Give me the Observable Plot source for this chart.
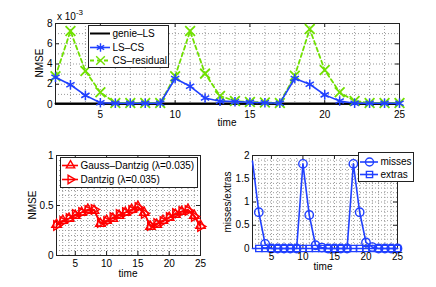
<!DOCTYPE html>
<html><head><meta charset="utf-8">
<script src="https://cdn.jsdelivr.net/npm/d3@7"></script>
<script src="https://cdn.jsdelivr.net/npm/@observablehq/plot@0.6"></script>
<style>
body{margin:0;background:#fff;}
#root{position:relative;width:436px;height:287px;overflow:hidden;font-family:"Liberation Sans",Arial,sans-serif;font-size:10px;color:#000;}
#root svg{position:absolute;overflow:visible;}
.lbl{position:absolute;white-space:nowrap;font-size:10px;line-height:1;transform:translate(-50%,-50%);}
.rot{transform:translate(-50%,-50%) rotate(-90deg);}
</style></head><body><div id="root"></div>
<script>
// ---------- data ----------
const time = [2,3,4,5,6,7,8,9,10,11,12,13,14,15,16,17,18,19,20,21,22,23,24,25];
// top panel, NMSE in units of 1e-3
const genieLS    = [0.1,0.1,0.1,0.1,0.1,0.1,0.1,0.1,0.1,0.1,0.1,0.1,0.1,0.1,0.1,0.1,0.1,0.1,0.1,0.1,0.1,0.1,0.1,0.1];
const lsCS       = [2.7,1.95,0.9,0.17,0.12,0.12,0.12,0.12,2.57,1.8,0.65,0.33,0.28,0.22,0.17,0.13,2.57,2.0,0.95,0.35,0.13,0.12,0.12,0.12];
const csResidual = [2.8,7.25,3.3,1.2,0.15,0.15,0.15,0.15,2.8,7.25,3.05,0.85,0.35,0.25,0.2,0.15,2.85,7.45,3.4,1.2,0.35,0.15,0.15,0.15];
// bottom-left panel
const gaussDantzig = [0.31,0.35,0.37,0.40,0.43,0.46,0.45,0.32,0.35,0.37,0.40,0.43,0.46,0.49,0.43,0.29,0.31,0.35,0.38,0.41,0.44,0.46,0.40,0.30];
const dantzig      = [0.30,0.34,0.37,0.41,0.43,0.45,0.46,0.33,0.34,0.38,0.41,0.43,0.45,0.48,0.42,0.30,0.32,0.34,0.38,0.42,0.44,0.45,0.39,0.29];
// bottom-right panel
const misses = [1.88,0.78,0.1,0,0,0,0,0,1.82,0.72,0.07,0.02,0,0,0,0,1.82,0.78,0.13,0.03,0,0,0,0];
const extras = [0,0,0,0,0,0,0,0,0,0,0,0,0,0,0,0,0,0,0,0,0,0,0,0];
// tick labels and legend names
const xTicks = [5,10,15,20,25];
const topYTicks = [0,2,4,6,8];
const blYTicks = [0,0.5,1];
const brYTicks = [0,0.5,1,1.5,2];
const topNames = ["genie–LS","LS–CS","CS–residual"];
const blNames = ["Gauss–Dantzig (λ=0.035)","Dantzig (λ=0.035)"];
const brNames = ["misses","extras"];

// ---------- styles ----------
const BLUE = "#2040ff", GREEN = "#70e000", RED = "#ff0000";
const FONT = "Liberation Sans, Arial, sans-serif";
const triRight = {draw(ctx, size){const s=Math.sqrt(size)*0.6824,t=s/2,u=s*Math.sqrt(3)/2;ctx.moveTo(s,0);ctx.lineTo(-t,u);ctx.lineTo(-t,-u);ctx.closePath();}};
const fmt = d => String(d);

const root = document.getElementById("root");
const rows = a => time.map((t,i)=>({t, v:a[i]}));

function panel({left, top, width, height, ml, mr, mt, mb, xDomain, yDomain, yTicks, gridX, gridY, xPad, marks}) {
  const iw = width-ml-mr, ih = height-mt-mb;
  const svg = Plot.plot({
    width, height, marginLeft:ml, marginRight:mr, marginTop:mt, marginBottom:mb,
    style:{fontFamily:FONT, fontSize:"10px", background:"transparent", overflow:"visible", color:"#000"},
    x:{domain:xDomain}, y:{domain:yDomain},
    marks:[
      Plot.gridX(gridX, {stroke:"#9a9a9a", strokeOpacity:1, strokeDasharray:"1,2"}),
      Plot.gridY(gridY, {stroke:"#9a9a9a", strokeOpacity:1, strokeDasharray:"1,2"}),
      Plot.frame({stroke:"#222"}),
      Plot.ruleX(xTicks, {x:d=>d, insetTop:ih-4, stroke:"#222"}),
      Plot.ruleX(xTicks, {x:d=>d, insetBottom:ih-4, stroke:"#222"}),
      Plot.ruleY(yTicks, {y:d=>d, insetRight:iw-4, stroke:"#222"}),
      Plot.ruleY(yTicks, {y:d=>d, insetLeft:iw-4, stroke:"#222"}),
      ...marks,
      Plot.axisX(xTicks, {anchor:"bottom", tickSize:0, tickPadding:xPad, tickFormat:fmt, label:null}),
      Plot.axisY(yTicks, {anchor:"left", tickSize:0, tickPadding:3, tickFormat:fmt, label:null})
    ]
  });
  svg.style.left = left+"px"; svg.style.top = top+"px";
  root.appendChild(svg);
}

function legend({left, top, w, h, entries}) {
  const marks = [Plot.frame({fill:"white", stroke:"#222"})];
  for (const e of entries) {
    marks.push(Plot.ruleY([e.y], {y:d=>d, x1:e.x1, x2:e.x2, stroke:e.color, strokeWidth:e.sw||1.6, strokeDasharray:e.dash||null}));
    if (e.symbol) marks.push(Plot.dot([e.y], {x:(e.x1+e.x2)/2, y:d=>d, symbol:e.symbol, r:e.r||4, stroke:e.color, strokeWidth:1.4}));
    marks.push(Plot.text([e.name], {x:e.tx, y:e.y, text:d=>d, textAnchor:"start", fontSize:10, fill:"black"}));
  }
  const svg = Plot.plot({width:w, height:h, margin:0,
    style:{fontFamily:FONT, fontSize:"10px", background:"transparent", overflow:"visible"},
    x:{domain:[0,w], range:[0,w], axis:null}, y:{domain:[0,h], range:[0,h], axis:null}, marks});
  svg.style.left = left+"px"; svg.style.top = top+"px";
  root.appendChild(svg);
}

function label(text, x, y, rot) {
  const d = document.createElement("div");
  d.className = "lbl" + (rot ? " rot" : "");
  d.innerHTML = text; d.style.left = x+"px"; d.style.top = y+"px";
  root.appendChild(d);
}

// ---------- top panel ----------
panel({left:0, top:0, width:436, height:135, ml:55, mr:37, mt:23, mb:31,
  xDomain:[2,25], yDomain:[0,8], yTicks:topYTicks, xPad:6,
  gridX:d3.range(3,25), gridY:d3.range(1,8),
  marks:[
    Plot.line(rows(genieLS), {x:"t", y:"v", stroke:"#000", strokeWidth:2}),
    Plot.line(rows(csResidual), {x:"t", y:"v", stroke:GREEN, strokeWidth:1.8, strokeDasharray:"4,3"}),
    Plot.dot(rows(csResidual), {x:"t", y:"v", symbol:"times", r:4.5, stroke:GREEN, strokeWidth:1.8}),
    Plot.line(rows(lsCS), {x:"t", y:"v", stroke:BLUE, strokeWidth:1.6}),
    Plot.dot(rows(lsCS), {x:"t", y:"v", symbol:"asterisk", r:4.5, stroke:BLUE, strokeWidth:1.5})
  ]});
legend({left:88, top:25, w:80, h:42, entries:[
  {name:topNames[0], y:8,  x1:2, x2:22, tx:24, color:"#000", sw:2},
  {name:topNames[1], y:22, x1:2, x2:22, tx:24, color:BLUE, symbol:"asterisk"},
  {name:topNames[2], y:35, x1:2, x2:22, tx:24, color:GREEN, symbol:"times", dash:"4,3", sw:1.8}
]});
label("x 10<sup style='font-size:8px;vertical-align:5px'>-3</sup>", 70, 15);
label("time", 227, 123);
label("NMSE", 40, 63, true);

// ---------- bottom-left panel ----------
panel({left:0, top:140, width:220, height:147, ml:56, mr:20, mt:15, mb:32,
  xDomain:[2,25], yDomain:[0,1], yTicks:blYTicks, xPad:4,
  gridX:d3.range(3,25), gridY:d3.range(1,20).map(i=>i*0.05),
  marks:[
    Plot.line(rows(gaussDantzig), {x:"t", y:"v", stroke:RED, strokeWidth:1.6}),
    Plot.dot(rows(gaussDantzig), {x:"t", y:"v", symbol:"triangle2", r:4.5, stroke:RED, strokeWidth:1.4}),
    Plot.line(rows(dantzig), {x:"t", y:"v", stroke:RED, strokeWidth:1.6}),
    Plot.dot(rows(dantzig), {x:"t", y:"v", symbol:triRight, r:4.5, stroke:RED, strokeWidth:1.4})
  ]});
legend({left:60, top:157, w:137, h:30, entries:[
  {name:blNames[0], y:8,  x1:2, x2:18, tx:20, color:RED, symbol:"triangle2"},
  {name:blNames[1], y:22, x1:2, x2:18, tx:20, color:RED, symbol:triRight}
]});
label("time", 128, 274);
label("NMSE", 33, 205, true);

// ---------- bottom-right panel ----------
panel({left:218, top:140, width:218, height:147, ml:34, mr:39, mt:15, mb:39,
  xDomain:[2,25], yDomain:[0,2], yTicks:brYTicks, xPad:4,
  gridX:d3.range(3,25), gridY:d3.range(1,20).map(i=>i*0.1),
  marks:[
    Plot.line(rows(extras), {x:"t", y:"v", stroke:BLUE, strokeWidth:1.6}),
    Plot.dot(rows(extras).filter(d=>d.t>2), {x:"t", y:"v", symbol:"square", r:3.5, stroke:BLUE, strokeWidth:1.4}),
    Plot.line(rows(misses), {x:"t", y:"v", stroke:BLUE, strokeWidth:1.6}),
    Plot.dot(rows(misses).filter(d=>d.t>2), {x:"t", y:"v", symbol:"circle", r:4.2, stroke:BLUE, strokeWidth:1.4})
  ]});
legend({left:358, top:152, w:55, h:29, entries:[
  {name:brNames[0], y:9.5, x1:2, x2:20, tx:22, color:BLUE, symbol:"circle"},
  {name:brNames[1], y:22,  x1:2, x2:20, tx:22, color:BLUE, symbol:"square", r:3.5}
]});
label("time", 323, 267);
label("misses/extras", 228, 202, true);
</script></body></html>
